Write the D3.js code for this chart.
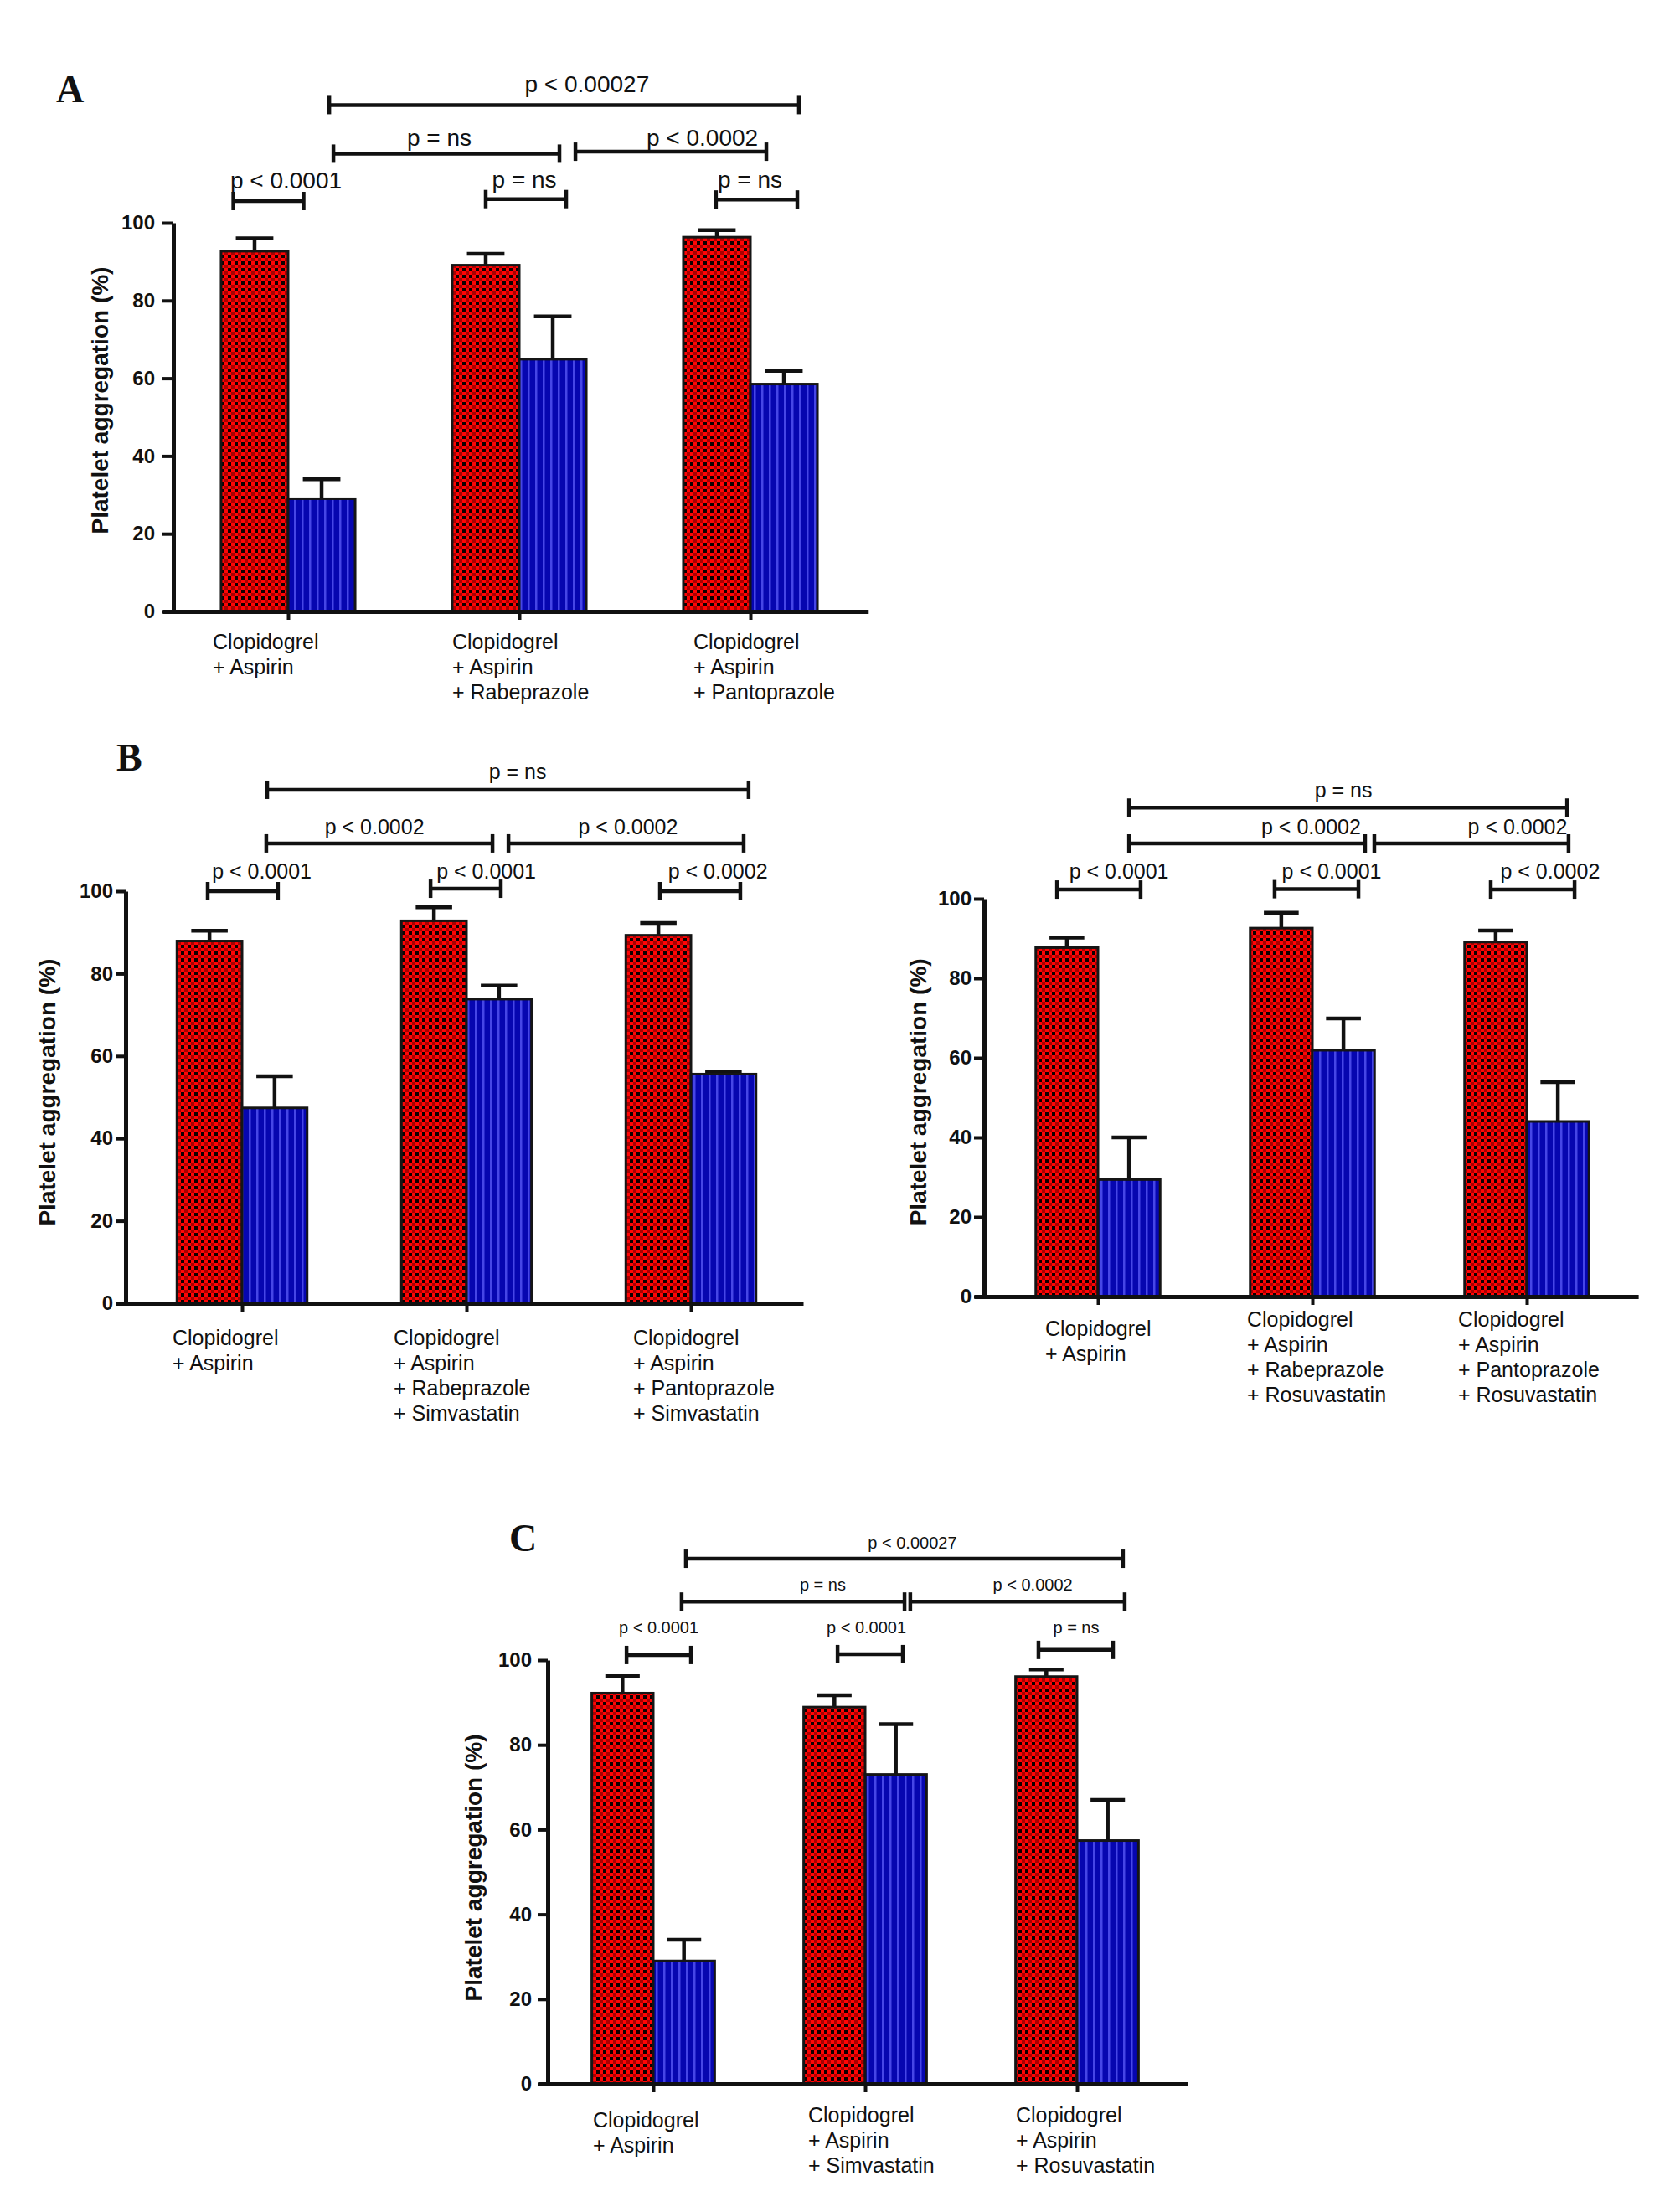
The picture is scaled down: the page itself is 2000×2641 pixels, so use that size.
<!DOCTYPE html>
<html><head><meta charset="utf-8">
<script src="https://cdn.jsdelivr.net/npm/d3@7"></script>
<style>html,body{margin:0;padding:0;background:#fff}</style>
</head><body>
<svg id="chart" width="2000" height="2641" xmlns="http://www.w3.org/2000/svg"></svg>
<script>
// ---------------- DATA ----------------
const yTicks = [0, 20, 40, 60, 80, 100];

const catsA = [["Clopidogrel", "+ Aspirin"],
               ["Clopidogrel", "+ Aspirin", "+ Rabeprazole"],
               ["Clopidogrel", "+ Aspirin", "+ Pantoprazole"]];
const redA = [92.7, 89.1, 96.3];
const redErrA = [3.3, 2.9, 1.8];
const blueA = [29.0, 64.9, 58.5];
const blueErrA = [5.0, 11.0, 3.4];
const pA = ["p < 0.0001", "p = ns", "p = ns", "p = ns", "p < 0.0002", "p < 0.00027"];

const catsBL = [["Clopidogrel", "+ Aspirin"],
                ["Clopidogrel", "+ Aspirin", "+ Rabeprazole", "+ Simvastatin"],
                ["Clopidogrel", "+ Aspirin", "+ Pantoprazole", "+ Simvastatin"]];
const redBL = [87.9, 92.8, 89.3];
const redErrBL = [2.5, 3.3, 3.0];
const blueBL = [47.4, 73.8, 55.6];
const blueErrBL = [7.7, 3.3, 0.6];
const pBL = ["p < 0.0001", "p < 0.0001", "p < 0.0002", "p < 0.0002", "p < 0.0002", "p = ns"];

const catsBR = [["Clopidogrel", "+ Aspirin"],
                ["Clopidogrel", "+ Aspirin", "+ Rabeprazole", "+ Rosuvastatin"],
                ["Clopidogrel", "+ Aspirin", "+ Pantoprazole", "+ Rosuvastatin"]];
const redBR = [87.7, 92.6, 89.1];
const redErrBR = [2.5, 3.9, 2.9];
const blueBR = [29.4, 61.9, 44.0];
const blueErrBR = [10.6, 8.0, 9.9];
const pBR = ["p < 0.0001", "p < 0.0001", "p < 0.0002", "p < 0.0002", "p < 0.0002", "p = ns"];

const catsC = [["Clopidogrel", "+ Aspirin"],
               ["Clopidogrel", "+ Aspirin", "+ Simvastatin"],
               ["Clopidogrel", "+ Aspirin", "+ Rosuvastatin"]];
const redC = [92.2, 88.9, 96.1];
const redErrC = [4.0, 2.8, 1.7];
const blueC = [29.0, 73.0, 57.4];
const blueErrC = [5.0, 11.9, 9.6];
const pC = ["p < 0.0001", "p < 0.0001", "p = ns", "p = ns", "p < 0.0002", "p < 0.00027"];

const yTitle = "Platelet aggregation (%)";

// ---------------- LAYOUT ----------------
// bracket geometry: x in group units, y in value units
const bracketGeomA = [
  {x1:-0.237, x2:0.067, y:105.6, tx:-0.009, ty:108.8},
  {x1:0.855, x2:1.203, y:106.1, tx:1.022, ty:109.1},
  {x1:1.851, x2:2.203, y:106.0, tx:1.998, ty:109.1},
  {x1:0.196, x2:1.174, y:117.8, tx:0.654, ty:119.8},
  {x1:1.243, x2:2.069, y:118.3, tx:1.792, ty:119.8},
  {x1:0.178, x2:2.210, y:130.3, tx:1.293, ty:133.6}];
const bracketGeomBL = [
  {x1:-0.153, x2:0.160, y:100.0, tx:0.088, ty:103.0},
  {x1:0.840, x2:1.153, y:100.6, tx:1.088, ty:103.0},
  {x1:1.862, x2:2.220, y:100.0, tx:2.12, ty:103.0},
  {x1:0.108, x2:1.116, y:111.6, tx:0.590, ty:113.8},
  {x1:1.187, x2:2.235, y:111.6, tx:1.72, ty:113.8},
  {x1:0.112, x2:2.257, y:124.6, tx:1.228, ty:127.2}];
const bracketGeomBR = [
  {x1:-0.191, x2:0.199, y:102.3, tx:0.098, ty:105.1},
  {x1:0.824, x2:1.215, y:102.4, tx:1.09, ty:105.1},
  {x1:1.832, x2:2.223, y:102.3, tx:2.109, ty:105.1},
  {x1:0.145, x2:1.246, y:113.9, tx:0.994, ty:116.2},
  {x1:1.289, x2:2.195, y:113.9, tx:1.957, ty:116.2},
  {x1:0.145, x2:2.188, y:122.9, tx:1.145, ty:125.5}];
const bracketGeomC = [
  {x1:-0.126, x2:0.178, y:101.2, tx:0.026, ty:106.3},
  {x1:0.870, x2:1.178, y:101.4, tx:1.006, ty:106.3},
  {x1:1.818, x2:2.170, y:102.4, tx:1.996, ty:106.3},
  {x1:0.134, x2:1.186, y:113.8, tx:0.800, ty:116.4},
  {x1:1.213, x2:2.225, y:113.8, tx:1.791, ty:116.4},
  {x1:0.154, x2:2.217, y:123.9, tx:1.223, ty:126.3}];

const panels = [
  {letter:"A", cats:catsA, red:redA, redErr:redErrA, blue:blueA, blueErr:blueErrA, p:pA, br:bracketGeomA,
   L:{axisX:207, c0:344, step:276, y0:730, y100:266, xEnd:2.51, tick:13, pad:9, pFont:28, cap:11,
      titleX:119, titleV:54.3, letterX:67, letterY:122, labelDx:[-90,-80,-68], labelDy:[45,45,45]}},
  {letter:"B", cats:catsBL, red:redBL, redErr:redErrBL, blue:blueBL, blueErr:blueErrBL, p:pBL, br:bracketGeomBL,
   L:{axisX:150, c0:289, step:268, y0:1556, y100:1064, xEnd:2.50, tick:12, pad:3, pFont:25, cap:11,
      titleX:56, titleV:51.2, letterX:139, letterY:920, labelDx:[-83,-87,-69], labelDy:[50,50,50]}},
  {letter:"", cats:catsBR, red:redBR, redErr:redErrBR, blue:blueBR, blueErr:blueErrBR, p:pBR, br:bracketGeomBR,
   L:{axisX:1175, c0:1311, step:256, y0:1548, y100:1073, xEnd:2.52, tick:12, pad:3, pFont:25, cap:11,
      titleX:1096, titleV:51.4, labelDx:[-63,-78,-82], labelDy:[47,36,36]}},
  {letter:"C", cats:catsC, red:redC, redErr:redErrC, blue:blueC, blueErr:blueErrC, p:pC, br:bracketGeomC,
   L:{axisX:654, c0:780, step:253, y0:2488, y100:1982, xEnd:2.52, tick:12, pad:7, pFont:20, cap:11,
      titleX:565, titleV:51, letterX:608, letterY:1852, labelDx:[-72,-68,-73], labelDy:[52,46,46]}}
];

// ---------------- DRAW ----------------
const svg = d3.select("#chart");
const defs = svg.append("defs");
const chk = defs.append("pattern").attr("id","checker").attr("patternUnits","userSpaceOnUse")
  .attr("width",8).attr("height",8);
chk.append("rect").attr("width",8).attr("height",8).attr("fill","#ff0505");
chk.append("rect").attr("x",0).attr("y",0).attr("width",4).attr("height",4).attr("fill","#100000");
chk.append("rect").attr("x",4).attr("y",4).attr("width",4).attr("height",4).attr("fill","#a80000");
const stp = defs.append("pattern").attr("id","stripes").attr("patternUnits","userSpaceOnUse")
  .attr("width",9).attr("height",9);
stp.append("rect").attr("width",9).attr("height",9).attr("fill","#0606b0");
stp.append("rect").attr("x",0).attr("width",2.5).attr("height",9).attr("fill","#4646e6");

const FONT = "'Liberation Sans', Arial, Helvetica, sans-serif";

panels.forEach(P => {
  const L = P.L;
  const g = svg.append("g");
  const x = d3.scaleLinear().domain([0, 2]).range([L.c0, L.c0 + 2 * L.step]);
  const y = d3.scaleLinear().domain([0, 100]).range([L.y0, L.y100]);
  const bw = 0.29 * L.step;
  const rows = P.red.map((v, i) => ({i, red:v, redErr:P.redErr[i], blue:P.blue[i], blueErr:P.blueErr[i]}));

  // error bars
  const errs = rows.flatMap(r => [
    {cx: x(r.i) - bw / 2, v: r.red, e: r.redErr},
    {cx: x(r.i) + bw / 2, v: r.blue, e: r.blueErr}]);
  const eg = g.append("g").attr("stroke", "#111").attr("stroke-width", 4.5);
  eg.selectAll("line.v").data(errs).join("line").attr("class","v")
    .attr("x1", d => d.cx).attr("x2", d => d.cx)
    .attr("y1", d => y(d.v)).attr("y2", d => y(d.v + d.e));
  eg.selectAll("line.c").data(errs).join("line").attr("class","c")
    .attr("x1", d => d.cx - bw * 0.28).attr("x2", d => d.cx + bw * 0.28)
    .attr("y1", d => y(d.v + d.e)).attr("y2", d => y(d.v + d.e));

  // bars
  g.selectAll("rect.red").data(rows).join("rect").attr("class","red")
    .attr("x", r => x(r.i) - bw).attr("y", r => y(r.red))
    .attr("width", bw).attr("height", r => y(0) - y(r.red))
    .attr("fill", "url(#checker)").attr("stroke", "#151515").attr("stroke-width", 3);
  g.selectAll("rect.blue").data(rows).join("rect").attr("class","blue")
    .attr("x", r => x(r.i)).attr("y", r => y(r.blue))
    .attr("width", bw).attr("height", r => y(0) - y(r.blue))
    .attr("fill", "url(#stripes)").attr("stroke", "#151515").attr("stroke-width", 3);

  // y axis
  const ya = g.append("g").attr("transform", `translate(${L.axisX},0)`)
    .call(d3.axisLeft(y).tickValues(yTicks).tickSizeInner(L.tick).tickSizeOuter(0).tickPadding(L.pad));
  ya.select(".domain").attr("stroke", "#111").attr("stroke-width", 5);
  ya.selectAll(".tick line").attr("stroke", "#111").attr("stroke-width", 4);
  ya.selectAll(".tick text").attr("font-family", FONT).attr("font-size", 24)
    .attr("font-weight", "bold").attr("fill", "#111");

  // x axis
  const xs = x.copy().domain([x.invert(L.axisX - L.tick), L.xEnd]).range([L.axisX - L.tick, x(L.xEnd)]);
  const xa = g.append("g").attr("transform", `translate(0,${L.y0})`)
    .call(d3.axisBottom(xs).tickValues([0, 1, 2]).tickSizeInner(10).tickSizeOuter(0).tickFormat(""));
  xa.select(".domain").attr("stroke", "#111").attr("stroke-width", 5);
  xa.selectAll(".tick line").attr("stroke", "#111").attr("stroke-width", 4);

  // y title
  g.append("text")
    .attr("transform", `translate(${L.titleX},${y(L.titleV)}) rotate(-90)`)
    .attr("text-anchor", "middle").attr("dominant-baseline", "central")
    .attr("font-family", FONT).attr("font-weight", "bold").attr("font-size", 28)
    .attr("fill", "#111").text(yTitle);

  // category labels
  P.cats.forEach((lines, i) => {
    const t = g.append("text").attr("font-family", FONT).attr("font-size", 25).attr("fill", "#111");
    lines.forEach((ln, k) => {
      t.append("tspan").attr("x", x(i) + L.labelDx[i]).attr("y", L.y0 + L.labelDy[i] + k * 30).text(ln);
    });
  });

  // significance brackets
  const bg = g.append("g").attr("stroke", "#111").attr("stroke-width", 4.5);
  P.br.forEach((b, k) => {
    bg.append("line").attr("x1", x(b.x1)).attr("x2", x(b.x2)).attr("y1", y(b.y)).attr("y2", y(b.y));
    [b.x1, b.x2].forEach(xx => {
      bg.append("line").attr("x1", x(xx)).attr("x2", x(xx))
        .attr("y1", y(b.y) - L.cap).attr("y2", y(b.y) + L.cap);
    });
    g.append("text").attr("x", x(b.tx)).attr("y", y(b.ty)).attr("text-anchor", "middle")
      .attr("font-family", FONT).attr("font-size", L.pFont).attr("fill", "#111").text(P.p[k]);
  });

  // panel letter
  if (P.letter) {
    g.append("text").attr("x", L.letterX).attr("y", L.letterY)
      .attr("font-family", "'Liberation Serif', 'Times New Roman', serif")
      .attr("font-weight", "bold").attr("font-size", 46).attr("fill", "#111").text(P.letter);
  }
});
</script>
</body></html>
